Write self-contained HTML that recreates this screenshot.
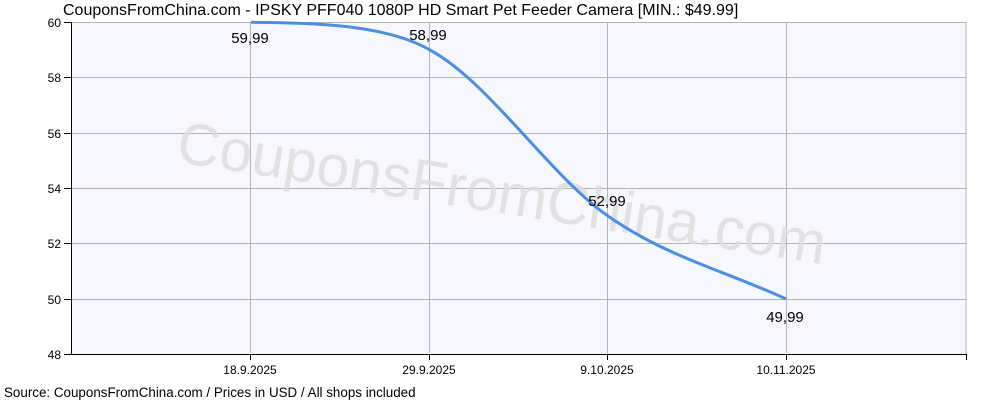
<!DOCTYPE html>
<html><head><meta charset="utf-8"><style>
body{margin:0;background:#fff;}
svg{display:block;font-family:"Liberation Sans",Arial,sans-serif;}
</style></head><body>
<svg width="1000" height="400" xmlns="http://www.w3.org/2000/svg">
<rect x="71" y="22" width="895" height="332" fill="#f7f8fd"/>
<g stroke="#b4b4b4" stroke-width="1">
<line x1="71" y1="77.5" x2="966" y2="77.5"/>
<line x1="71" y1="133.5" x2="966" y2="133.5"/>
<line x1="71" y1="188.5" x2="966" y2="188.5"/>
<line x1="71" y1="243.5" x2="966" y2="243.5"/>
<line x1="71" y1="299.5" x2="966" y2="299.5"/>
<line x1="966" y1="22" x2="966" y2="354"/>
<line x1="71" y1="22.5" x2="966" y2="22.5"/>
<line x1="250.5" y1="22" x2="250.5" y2="354"/>
<line x1="429.5" y1="22" x2="429.5" y2="354"/>
<line x1="607.5" y1="22" x2="607.5" y2="354"/>
<line x1="786.5" y1="22" x2="786.5" y2="354"/>
</g>
<text x="500" y="213" font-size="59" fill="#dcdcdc" fill-opacity="0.8" text-anchor="middle" transform="rotate(9 500 205)">CouponsFromChina.com</text>
<g stroke="#000" stroke-width="1">
<line x1="71.5" y1="22" x2="71.5" y2="355"/>
<line x1="71" y1="354.5" x2="966" y2="354.5"/>
<line x1="64" y1="22.5" x2="71" y2="22.5"/>
<line x1="64" y1="77.5" x2="71" y2="77.5"/>
<line x1="64" y1="133.5" x2="71" y2="133.5"/>
<line x1="64" y1="188.5" x2="71" y2="188.5"/>
<line x1="64" y1="243.5" x2="71" y2="243.5"/>
<line x1="64" y1="299.5" x2="71" y2="299.5"/>
<line x1="64" y1="354.5" x2="71" y2="354.5"/>
<line x1="250.5" y1="354" x2="250.5" y2="360"/>
<line x1="429.5" y1="354" x2="429.5" y2="360"/>
<line x1="607.5" y1="354" x2="607.5" y2="360"/>
<line x1="786.5" y1="354" x2="786.5" y2="360"/>
<line x1="966.5" y1="354" x2="966.5" y2="360"/>
</g>
<g font-size="12" fill="#000" text-anchor="end">
<text x="61" y="27">60</text><text x="61" y="82">58</text><text x="61" y="138">56</text>
<text x="61" y="193">54</text><text x="61" y="248">52</text><text x="61" y="304">50</text><text x="61" y="359">48</text>
</g>
<g font-size="12" fill="#000" text-anchor="middle">
<text x="250" y="374">18.9.2025</text><text x="429" y="374">29.9.2025</text>
<text x="607" y="374">9.10.2025</text><text x="786" y="374">10.11.2025</text>
</g>
<path d="M251,22.3 C310,22.5 385,24 430,50 C489.5,82.3 548.7,174.5 608,216 C667.3,257.5 726.7,271.3 786,299" fill="none" stroke="#4a8eea" stroke-width="3"/>
<g font-size="15" fill="#000" text-anchor="middle">
<text x="250" y="43">59,99</text><text x="428" y="40">58,99</text>
<text x="607" y="206">52,99</text><text x="785" y="322">49,99</text>
</g>
<text x="63" y="15" font-size="16" fill="#000">CouponsFromChina.com - IPSKY PFF040 1080P HD Smart Pet Feeder Camera [MIN.: $49.99]</text>
<text x="4" y="397" font-size="13.4" fill="#000">Source: CouponsFromChina.com / Prices in USD / All shops included</text>
</svg>
</body></html>
